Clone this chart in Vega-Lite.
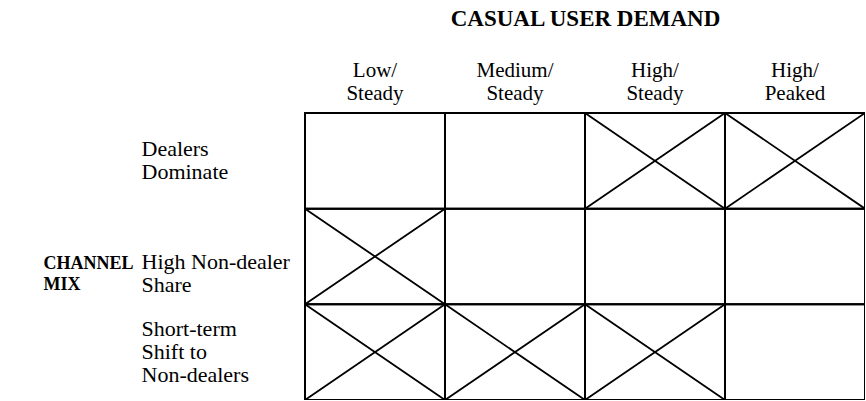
{
  "$schema": "https://vega.github.io/schema/vega-lite/v6.json",
  "width": 560,
  "height": 287,
  "autosize": {"type": "none"},
  "padding": {"left": 305, "top": 113, "right": 0, "bottom": 0},
  "background": "white",
  "config": {
    "view": {"stroke": null},
    "font": "Liberation Serif",
    "axisX": {
      "orient": "top", "labelAngle": 0, "labelAlign": "center", "labelBaseline": "bottom",
      "labelExpr": "[split(datum.label, '/')[0] + '/', split(datum.label, '/')[1]]",
      "labelPadding": 33, "labelLineHeight": 23, "labelFontSize": 21, "labelColor": "black",
      "labelFont": "Liberation Serif", "labelLimit": 0,
      "ticks": false, "tickSize": 0, "domain": false, "grid": false,
      "titleFontSize": 23, "titleFontWeight": "bold",
      "titleFont": "Liberation Serif", "titleColor": "black",
      "titleX": 280, "titleY": -88, "titleAlign": "center", "titleBaseline": "alphabetic"
    },
    "axisY": {
      "orient": "left", "labelAlign": "left", "labelBaseline": "middle",
      "labelExpr": "datum.label == 'Dealers Dominate' ? ['Dealers', 'Dominate'] : datum.label == 'High Non-dealer Share' ? ['High Non-dealer', 'Share'] : ['Short-term', 'Shift to', 'Non-dealers']",
      "labelOffset": {
        "condition": [
          {"test": "datum.label == 'Dealers Dominate'", "value": -12},
          {"test": "datum.label == 'High Non-dealer Share'", "value": 5}
        ],
        "value": -23
      },
      "labelPadding": 164, "labelLineHeight": 23, "labelFontSize": 22, "labelColor": "black",
      "labelFont": "Liberation Serif", "labelLimit": 0,
      "ticks": false, "tickSize": 0, "domain": false, "grid": false,
      "titleAngle": 0, "titleAlign": "left", "titleBaseline": "alphabetic",
      "titleX": -262, "titleY": 155, "titleFontSize": 18, "titleFontWeight": "bold",
      "titleFont": "Liberation Serif", "titleColor": "black", "titleLineHeight": 21
    }
  },
  "data": {
    "values": [
      {"demand": "Low/Steady", "channel": "Dealers Dominate", "cross": false},
      {"demand": "Medium/Steady", "channel": "Dealers Dominate", "cross": false},
      {"demand": "High/Steady", "channel": "Dealers Dominate", "cross": true},
      {"demand": "High/Peaked", "channel": "Dealers Dominate", "cross": true},
      {"demand": "Low/Steady", "channel": "High Non-dealer Share", "cross": true},
      {"demand": "Medium/Steady", "channel": "High Non-dealer Share", "cross": false},
      {"demand": "High/Steady", "channel": "High Non-dealer Share", "cross": false},
      {"demand": "High/Peaked", "channel": "High Non-dealer Share", "cross": false},
      {"demand": "Low/Steady", "channel": "Short-term Shift to Non-dealers", "cross": true},
      {"demand": "Medium/Steady", "channel": "Short-term Shift to Non-dealers", "cross": true},
      {"demand": "High/Steady", "channel": "Short-term Shift to Non-dealers", "cross": true},
      {"demand": "High/Peaked", "channel": "Short-term Shift to Non-dealers", "cross": false}
    ]
  },
  "layer": [
    {
      "mark": {"type": "rect", "filled": false, "color": "black", "strokeWidth": 2},
      "encoding": {
        "x": {
          "field": "demand", "type": "nominal", "title": "CASUAL USER DEMAND",
          "sort": ["Low/Steady", "Medium/Steady", "High/Steady", "High/Peaked"],
          "scale": {"paddingInner": 0, "paddingOuter": 0}
        },
        "y": {
          "field": "channel", "type": "nominal", "title": ["CHANNEL", "MIX"],
          "sort": ["Dealers Dominate", "High Non-dealer Share", "Short-term Shift to Non-dealers"],
          "scale": {"paddingInner": 0, "paddingOuter": 0}
        }
      }
    },
    {
      "transform": [{"filter": "datum.cross"}],
      "mark": {"type": "rule", "color": "black", "strokeWidth": 1.8},
      "encoding": {
        "x": {"field": "demand", "type": "nominal", "bandPosition": 0, "title": "CASUAL USER DEMAND",
          "sort": ["Low/Steady", "Medium/Steady", "High/Steady", "High/Peaked"],
          "scale": {"paddingInner": 0, "paddingOuter": 0}},
        "x2": {"field": "demand", "bandPosition": 1},
        "y": {"field": "channel", "type": "nominal", "bandPosition": 0, "title": ["CHANNEL", "MIX"],
          "sort": ["Dealers Dominate", "High Non-dealer Share", "Short-term Shift to Non-dealers"],
          "scale": {"paddingInner": 0, "paddingOuter": 0}},
        "y2": {"field": "channel", "bandPosition": 1}
      }
    },
    {
      "transform": [{"filter": "datum.cross"}],
      "mark": {"type": "rule", "color": "black", "strokeWidth": 1.8},
      "encoding": {
        "x": {"field": "demand", "type": "nominal", "bandPosition": 0, "title": "CASUAL USER DEMAND",
          "sort": ["Low/Steady", "Medium/Steady", "High/Steady", "High/Peaked"],
          "scale": {"paddingInner": 0, "paddingOuter": 0}},
        "x2": {"field": "demand", "bandPosition": 1},
        "y": {"field": "channel", "type": "nominal", "bandPosition": 1, "title": ["CHANNEL", "MIX"],
          "sort": ["Dealers Dominate", "High Non-dealer Share", "Short-term Shift to Non-dealers"],
          "scale": {"paddingInner": 0, "paddingOuter": 0}},
        "y2": {"field": "channel", "bandPosition": 0}
      }
    }
  ]
}
